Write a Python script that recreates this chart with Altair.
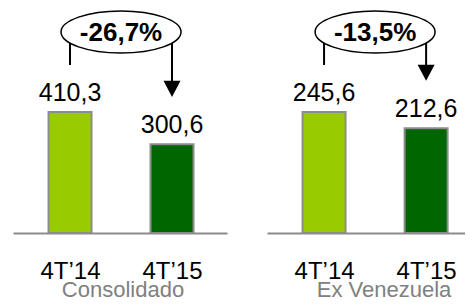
import json
import altair as alt
import pandas as pd

categories = ["4T\u201914", "4T\u201915"]
panel_titles = ["Consolidado", "Ex Venezuela"]
values_consolidado = [410.3, 300.6]
values_ex_venezuela = [245.6, 212.6]
change_labels = ["-26,7%", "-13,5%"]
bar_colors = ["#99cc00", "#006600"]

FONT = "Liberation Sans"
H = 223          # plot height (px)
BAR_PX = 121     # pixel height of the first bar in each panel

ELLIPSE = "M-1,0A1,0.35,0,1,1,1,0A1,0.35,0,1,1,-1,0Z"
TRIANGLE = "M-1,-0.95L1,-0.95L0,0.95Z"


def panel(values, pct, title, width, xmax, title_x):
    df = pd.DataFrame({"idx": [0, 1], "cat": categories, "value": values,
                       "color": bar_colors})
    ymax = values[0] * H / BAR_PX
    yenc = alt.Y("value:Q", scale=alt.Scale(domain=[0, ymax], nice=False, zero=True),
                 axis=None)
    xenc = alt.X(
        "idx:Q",
        scale=alt.Scale(domain=[-0.51, xmax], nice=False, zero=False),
        axis=alt.Axis(
            values=[0, 1],
            labelExpr=f"{json.dumps(categories, ensure_ascii=False)}[datum.value]",
            title=title, titleX=title_x, titleY=63, titleAlign="center",
            titleBaseline="alphabetic", titleFontSize=22, titleFontWeight="normal",
            titleColor="#808080", titleFont=FONT,
            labelFont=FONT, labelFontSize=24, labelColor="black",
            labelBaseline="alphabetic", labelPadding=45, labelFlush=False,
            labelOverlap=False, labelBound=False,
            ticks=False, tickSize=0, grid=False, domainColor="#8c8c8c",
            domainWidth=2, zindex=1,
        ),
    )

    bars = alt.Chart(df).mark_bar(size=43, stroke="#8c8c8c", strokeWidth=2).encode(
        y=yenc, color=alt.Color("color:N", scale=None))

    vlabels = alt.Chart(df).transform_calculate(
        label="replace(format(datum.value, '.1f'), '.', ',')"
    ).mark_text(baseline="alphabetic", dy=-11, fontSize=25, font=FONT,
                color="black").encode(y=yenc, text="label:N")

    left_line = alt.Chart(df[df.idx == 0]).mark_rule(
        strokeWidth=2, color="black").encode(y=alt.value(28), y2=alt.value(55))

    df2 = df[df.idx == 1]
    right_line = alt.Chart(df2).mark_rule(
        strokeWidth=2, color="black", yOffset=-61).encode(y=yenc, y2=alt.value(28))
    arrow = alt.Chart(df2).mark_point(
        shape=TRIANGLE, size=289, filled=True, fill="black", opacity=1,
        strokeWidth=0, yOffset=-55.5).encode(y=yenc)

    edf = pd.DataFrame({"idx": [0.5], "pct": [pct]})
    ellipse = alt.Chart(edf).mark_point(
        shape=ELLIPSE, size=14400, filled=True, fill="white", stroke="black",
        strokeWidth=1.5, opacity=1).encode(y=alt.value(22))
    pct_text = alt.Chart(edf).mark_text(
        baseline="alphabetic", fontSize=26, fontWeight="bold", font=FONT,
        color="black").encode(y=alt.value(31), text="pct:N")

    return alt.layer(bars, vlabels, left_line, right_line, arrow, ellipse,
                     pct_text).encode(x=xenc).properties(width=width, height=H)


left = panel(values_consolidado, change_labels[0], panel_titles[0], 214, 1.49, 109.5)
right = panel(values_ex_venezuela, change_labels[1], panel_titles[1], 198, 1.332, 116.5)

chart = alt.hconcat(left, right, spacing=40).resolve_scale(
    x="independent", y="independent"
).configure_view(stroke=None).properties(
    padding={"left": 5, "top": 0, "right": 0, "bottom": 0}
)

chart.save("out.html", embed_options={"renderer": "svg", "actions": False})
